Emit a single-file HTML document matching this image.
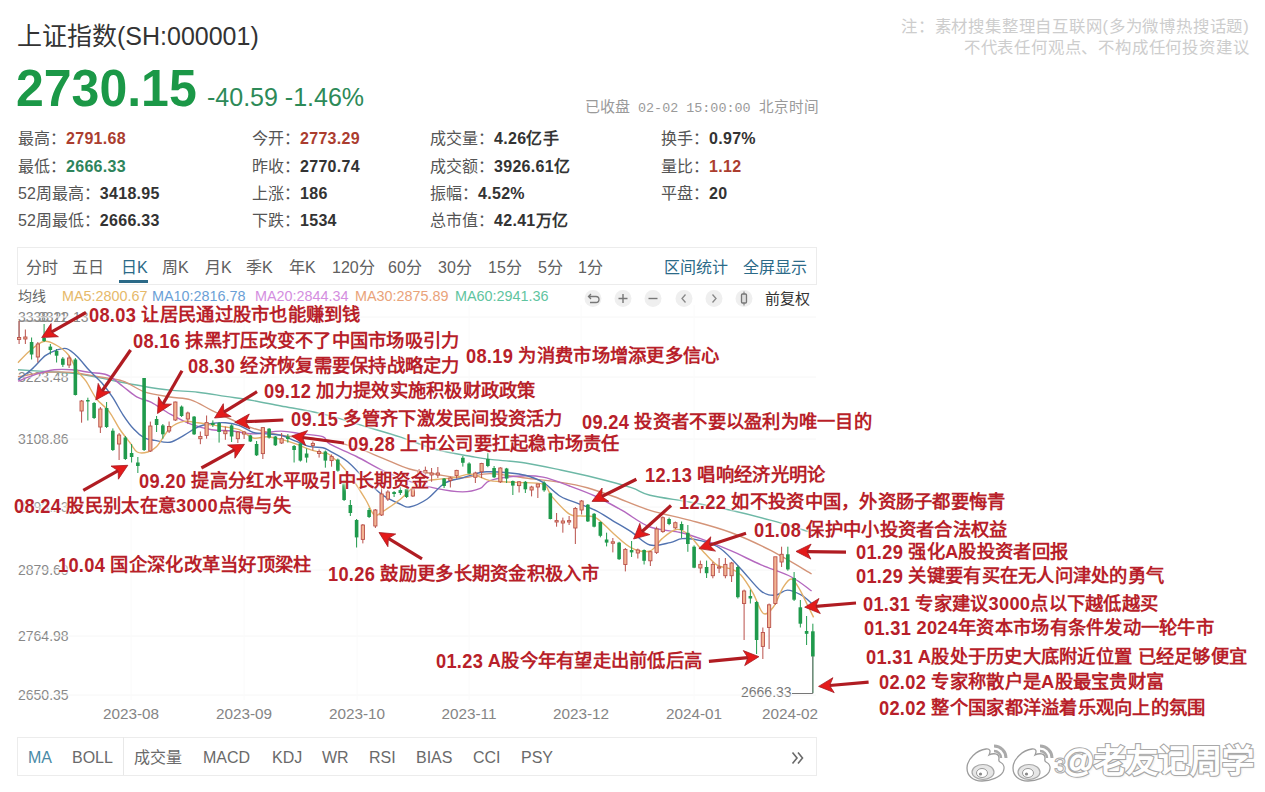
<!DOCTYPE html>
<html lang="zh-CN"><head><meta charset="utf-8"><style>
html,body{margin:0;padding:0;background:#fff;}
#root{position:relative;width:1265px;height:792px;overflow:hidden;background:#fff;font-family:"Liberation Sans",sans-serif;}
.t{position:absolute;white-space:nowrap;}
.box{position:absolute;border:1px solid #e6e6e6;box-sizing:border-box;}
b{font-weight:bold;}
</style></head><body><div id="root">
<div class="t" style="left:17px;top:23.5px;font-size:25px;line-height:25px;color:#333;font-weight:normal;font-family:'Liberation Sans', sans-serif;">上证指数(SH:000001)</div>
<div class="t" style="left:16px;top:62.8px;font-size:50px;line-height:50px;color:#1b9847;font-weight:bold;font-family:'Liberation Sans', sans-serif;transform:scaleY(1.04);transform-origin:0 50%;">2730.15</div>
<div class="t" style="left:207px;top:84.5px;font-size:25px;line-height:25px;color:#2d8a58;font-weight:normal;font-family:'Liberation Sans', sans-serif;">-40.59 -1.46%</div>
<div class="t" style="left:585px;top:97px;line-height:20px;color:#9a9a9a;font-size:15px">已收盘<span style="font-family:'Liberation Mono',monospace;font-size:13.4px"> 02-02 15:00:00 </span><span style="font-size:14.6px">北京时间</span></div>
<div class="t" style="left:18px;top:129px;font-size:16px;line-height:20px;color:#555">最高：<b style="color:#ab3d2f;letter-spacing:0.3px">2791.68</b></div>
<div class="t" style="left:18px;top:156.5px;font-size:16px;line-height:20px;color:#555">最低：<b style="color:#2e845b;letter-spacing:0.3px">2666.33</b></div>
<div class="t" style="left:18px;top:184px;font-size:16px;line-height:20px;color:#555">52周最高：<b style="color:#333;letter-spacing:0.3px">3418.95</b></div>
<div class="t" style="left:18px;top:211px;font-size:16px;line-height:20px;color:#555">52周最低：<b style="color:#333;letter-spacing:0.3px">2666.33</b></div>
<div class="t" style="left:252px;top:129px;font-size:16px;line-height:20px;color:#555">今开：<b style="color:#ab3d2f;letter-spacing:0.3px">2773.29</b></div>
<div class="t" style="left:252px;top:156.5px;font-size:16px;line-height:20px;color:#555">昨收：<b style="color:#333;letter-spacing:0.3px">2770.74</b></div>
<div class="t" style="left:252px;top:184px;font-size:16px;line-height:20px;color:#555">上涨：<b style="color:#333;letter-spacing:0.3px">186</b></div>
<div class="t" style="left:252px;top:211px;font-size:16px;line-height:20px;color:#555">下跌：<b style="color:#333;letter-spacing:0.3px">1534</b></div>
<div class="t" style="left:430px;top:129px;font-size:16px;line-height:20px;color:#555">成交量：<b style="color:#333;letter-spacing:0.3px">4.26亿手</b></div>
<div class="t" style="left:430px;top:156.5px;font-size:16px;line-height:20px;color:#555">成交额：<b style="color:#333;letter-spacing:0.3px">3926.61亿</b></div>
<div class="t" style="left:430px;top:184px;font-size:16px;line-height:20px;color:#555">振幅：<b style="color:#333;letter-spacing:0.3px">4.52%</b></div>
<div class="t" style="left:430px;top:211px;font-size:16px;line-height:20px;color:#555">总市值：<b style="color:#333;letter-spacing:0.3px">42.41万亿</b></div>
<div class="t" style="left:661px;top:129px;font-size:16px;line-height:20px;color:#555">换手：<b style="color:#333;letter-spacing:0.3px">0.97%</b></div>
<div class="t" style="left:661px;top:156.5px;font-size:16px;line-height:20px;color:#555">量比：<b style="color:#ab3d2f;letter-spacing:0.3px">1.12</b></div>
<div class="t" style="left:661px;top:184px;font-size:16px;line-height:20px;color:#555">平盘：<b style="color:#333;letter-spacing:0.3px">20</b></div>
<div class="t" style="right:15.5px;text-align:right;top:18.3px;font-size:16.4px;line-height:16.4px;color:#cdcdcd;font-weight:normal;font-family:'Liberation Sans', sans-serif;letter-spacing:0.8px;">注：素材搜集整理自互联网(多为微博热搜话题)</div>
<div class="t" style="right:15.5px;text-align:right;top:39.1px;font-size:16.4px;line-height:16.4px;color:#cdcdcd;font-weight:normal;font-family:'Liberation Sans', sans-serif;letter-spacing:0.8px;">不代表任何观点、不构成任何投资建议</div>
<div class="box" style="left:17px;top:247px;width:800px;height:37.5px;border-color:#ececec"></div>
<div class="t" style="left:26px;top:260.0px;font-size:16px;line-height:16px;color:#606060;font-weight:normal;font-family:'Liberation Sans', sans-serif;">分时</div>
<div class="t" style="left:72px;top:260.0px;font-size:16px;line-height:16px;color:#606060;font-weight:normal;font-family:'Liberation Sans', sans-serif;">五日</div>
<div class="t" style="left:121px;top:260.0px;font-size:16px;line-height:16px;color:#2b6a88;font-weight:normal;font-family:'Liberation Sans', sans-serif;">日K</div>
<div class="t" style="left:162px;top:260.0px;font-size:16px;line-height:16px;color:#606060;font-weight:normal;font-family:'Liberation Sans', sans-serif;">周K</div>
<div class="t" style="left:205px;top:260.0px;font-size:16px;line-height:16px;color:#606060;font-weight:normal;font-family:'Liberation Sans', sans-serif;">月K</div>
<div class="t" style="left:246px;top:260.0px;font-size:16px;line-height:16px;color:#606060;font-weight:normal;font-family:'Liberation Sans', sans-serif;">季K</div>
<div class="t" style="left:289px;top:260.0px;font-size:16px;line-height:16px;color:#606060;font-weight:normal;font-family:'Liberation Sans', sans-serif;">年K</div>
<div class="t" style="left:332px;top:260.0px;font-size:16px;line-height:16px;color:#606060;font-weight:normal;font-family:'Liberation Sans', sans-serif;">120分</div>
<div class="t" style="left:388px;top:260.0px;font-size:16px;line-height:16px;color:#606060;font-weight:normal;font-family:'Liberation Sans', sans-serif;">60分</div>
<div class="t" style="left:438px;top:260.0px;font-size:16px;line-height:16px;color:#606060;font-weight:normal;font-family:'Liberation Sans', sans-serif;">30分</div>
<div class="t" style="left:488px;top:260.0px;font-size:16px;line-height:16px;color:#606060;font-weight:normal;font-family:'Liberation Sans', sans-serif;">15分</div>
<div class="t" style="left:538px;top:260.0px;font-size:16px;line-height:16px;color:#606060;font-weight:normal;font-family:'Liberation Sans', sans-serif;">5分</div>
<div class="t" style="left:578px;top:260.0px;font-size:16px;line-height:16px;color:#606060;font-weight:normal;font-family:'Liberation Sans', sans-serif;">1分</div>
<div style="position:absolute;left:119px;top:280px;width:29px;height:3px;background:#2b6a88"></div>
<div class="t" style="left:664px;top:260.0px;font-size:16px;line-height:16px;color:#2b6a88;font-weight:normal;font-family:'Liberation Sans', sans-serif;">区间统计</div>
<div class="t" style="left:743px;top:260.0px;font-size:16px;line-height:16px;color:#2b6a88;font-weight:normal;font-family:'Liberation Sans', sans-serif;">全屏显示</div>
<div class="t" style="left:18px;top:289.0px;font-size:14px;line-height:14px;color:#666;font-weight:normal;font-family:'Liberation Sans', sans-serif;">均线</div>
<div class="t" style="left:62px;top:288.8px;font-size:14.4px;line-height:14.4px;color:#e6b96a;font-weight:normal;font-family:'Liberation Sans', sans-serif;">MA5:2800.67</div>
<div class="t" style="left:152px;top:288.8px;font-size:14.4px;line-height:14.4px;color:#6b9fd6;font-weight:normal;font-family:'Liberation Sans', sans-serif;">MA10:2816.78</div>
<div class="t" style="left:255px;top:288.8px;font-size:14.4px;line-height:14.4px;color:#d48ee0;font-weight:normal;font-family:'Liberation Sans', sans-serif;">MA20:2844.34</div>
<div class="t" style="left:355px;top:288.8px;font-size:14.4px;line-height:14.4px;color:#e9a37a;font-weight:normal;font-family:'Liberation Sans', sans-serif;">MA30:2875.89</div>
<div class="t" style="left:455px;top:288.8px;font-size:14.4px;line-height:14.4px;color:#5fc4a0;font-weight:normal;font-family:'Liberation Sans', sans-serif;">MA60:2941.36</div>
<svg style="position:absolute;left:0;top:0" width="1265" height="320"><g transform="translate(593,298.5)"><circle r="8.5" fill="#efefef"/><path d="M-4 -2 L3 -2 A3 3 0 0 1 3 4 L-3 4 M-2 -4.5 L-4.5 -2 L-2 0.5" fill="none" stroke="#777" stroke-width="1.3"/></g><g transform="translate(623,298.5)"><circle r="8.5" fill="#efefef"/><path d="M-4.5 0 H4.5 M0 -4.5 V4.5" stroke="#777" stroke-width="1.4"/></g><g transform="translate(653,298.5)"><circle r="8.5" fill="#efefef"/><path d="M-4.5 0 H4.5" stroke="#777" stroke-width="1.4"/></g><g transform="translate(684,298.5)"><circle r="8.5" fill="#efefef"/><path d="M1.5 -4 L-2 0 L1.5 4" fill="none" stroke="#888" stroke-width="1.3"/></g><g transform="translate(714,298.5)"><circle r="8.5" fill="#efefef"/><path d="M-1.5 -4 L2 0 L-1.5 4" fill="none" stroke="#888" stroke-width="1.3"/></g><g transform="translate(744,298.5)"><circle r="8.5" fill="#efefef"/><path d="M0 -7 V7" stroke="#777" stroke-width="1"/><rect x="-2.5" y="-4.5" width="5" height="9" rx="1" fill="#ddd" stroke="#777" stroke-width="1.3"/></g></svg>
<div class="t" style="left:765px;top:291.0px;font-size:15px;line-height:15px;color:#333;font-weight:normal;font-family:'Liberation Sans', sans-serif;">前复权</div>
<div class="t" style="left:18px;top:310.0px;font-size:14px;line-height:14px;color:#888;font-weight:normal;font-family:'Liberation Sans', sans-serif;">3338.11</div>
<div class="t" style="left:18px;top:370.0px;font-size:14px;line-height:14px;color:#888;font-weight:normal;font-family:'Liberation Sans', sans-serif;">3223.48</div>
<div class="t" style="left:18px;top:432.0px;font-size:14px;line-height:14px;color:#888;font-weight:normal;font-family:'Liberation Sans', sans-serif;">3108.86</div>
<div class="t" style="left:18px;top:500.0px;font-size:14px;line-height:14px;color:#888;font-weight:normal;font-family:'Liberation Sans', sans-serif;">2993.23</div>
<div class="t" style="left:18px;top:563.0px;font-size:14px;line-height:14px;color:#888;font-weight:normal;font-family:'Liberation Sans', sans-serif;">2879.60</div>
<div class="t" style="left:18px;top:629.0px;font-size:14px;line-height:14px;color:#888;font-weight:normal;font-family:'Liberation Sans', sans-serif;">2764.98</div>
<div class="t" style="left:18px;top:688.0px;font-size:14px;line-height:14px;color:#888;font-weight:normal;font-family:'Liberation Sans', sans-serif;">2650.35</div>
<div class="t" style="left:38px;top:310.0px;font-size:14px;line-height:14px;color:#888;font-weight:normal;font-family:'Liberation Sans', sans-serif;">3322.13</div>
<div class="t" style="left:131px;transform:translateX(-50%);top:706.4px;font-size:15.3px;line-height:15.3px;color:#858585;font-weight:normal;font-family:'Liberation Sans', sans-serif;">2023-08</div>
<div class="t" style="left:244px;transform:translateX(-50%);top:706.4px;font-size:15.3px;line-height:15.3px;color:#858585;font-weight:normal;font-family:'Liberation Sans', sans-serif;">2023-09</div>
<div class="t" style="left:357px;transform:translateX(-50%);top:706.4px;font-size:15.3px;line-height:15.3px;color:#858585;font-weight:normal;font-family:'Liberation Sans', sans-serif;">2023-10</div>
<div class="t" style="left:469px;transform:translateX(-50%);top:706.4px;font-size:15.3px;line-height:15.3px;color:#858585;font-weight:normal;font-family:'Liberation Sans', sans-serif;">2023-11</div>
<div class="t" style="left:581px;transform:translateX(-50%);top:706.4px;font-size:15.3px;line-height:15.3px;color:#858585;font-weight:normal;font-family:'Liberation Sans', sans-serif;">2023-12</div>
<div class="t" style="left:694px;transform:translateX(-50%);top:706.4px;font-size:15.3px;line-height:15.3px;color:#858585;font-weight:normal;font-family:'Liberation Sans', sans-serif;">2024-01</div>
<div class="t" style="left:790px;transform:translateX(-50%);top:706.4px;font-size:15.3px;line-height:15.3px;color:#858585;font-weight:normal;font-family:'Liberation Sans', sans-serif;">2024-02</div>
<div class="t" style="left:741px;top:685.0px;font-size:14px;line-height:14px;color:#777;font-weight:normal;font-family:'Liberation Sans', sans-serif;">2666.33</div>
<div class="box" style="left:17px;top:737px;width:800px;height:38.5px;border-color:#ececec"></div>
<div style="position:absolute;left:123px;top:737px;width:1px;height:38px;background:#e8e8e8"></div>
<div class="t" style="left:28px;top:750.0px;font-size:16px;line-height:16px;color:#4a8aa6;font-weight:normal;font-family:'Liberation Sans', sans-serif;">MA</div>
<div class="t" style="left:72px;top:750.0px;font-size:16px;line-height:16px;color:#6a6a6a;font-weight:normal;font-family:'Liberation Sans', sans-serif;">BOLL</div>
<div class="t" style="left:134px;top:750.0px;font-size:16px;line-height:16px;color:#6a6a6a;font-weight:normal;font-family:'Liberation Sans', sans-serif;">成交量</div>
<div class="t" style="left:203px;top:750.0px;font-size:16px;line-height:16px;color:#6a6a6a;font-weight:normal;font-family:'Liberation Sans', sans-serif;">MACD</div>
<div class="t" style="left:272px;top:750.0px;font-size:16px;line-height:16px;color:#6a6a6a;font-weight:normal;font-family:'Liberation Sans', sans-serif;">KDJ</div>
<div class="t" style="left:322px;top:750.0px;font-size:16px;line-height:16px;color:#6a6a6a;font-weight:normal;font-family:'Liberation Sans', sans-serif;">WR</div>
<div class="t" style="left:369px;top:750.0px;font-size:16px;line-height:16px;color:#6a6a6a;font-weight:normal;font-family:'Liberation Sans', sans-serif;">RSI</div>
<div class="t" style="left:416px;top:750.0px;font-size:16px;line-height:16px;color:#6a6a6a;font-weight:normal;font-family:'Liberation Sans', sans-serif;">BIAS</div>
<div class="t" style="left:473px;top:750.0px;font-size:16px;line-height:16px;color:#6a6a6a;font-weight:normal;font-family:'Liberation Sans', sans-serif;">CCI</div>
<div class="t" style="left:521px;top:750.0px;font-size:16px;line-height:16px;color:#6a6a6a;font-weight:normal;font-family:'Liberation Sans', sans-serif;">PSY</div>
<svg style="position:absolute;left:790px;top:750px" width="16" height="16" viewBox="0 0 16 16"><path d="M2.5 2.5 L7 8 L2.5 13.5 M8 2.5 L12.5 8 L8 13.5" fill="none" stroke="#6a6a6a" stroke-width="1.6"/></svg>
<svg style="position:absolute;left:0;top:0" width="1265" height="792" viewBox="0 0 1265 792"><line x1="17" y1="317" x2="816" y2="317" stroke="#f6f6f6" stroke-width="1"/><line x1="17" y1="377" x2="816" y2="377" stroke="#f6f6f6" stroke-width="1"/><line x1="17" y1="439" x2="816" y2="439" stroke="#f6f6f6" stroke-width="1"/><line x1="17" y1="507" x2="816" y2="507" stroke="#f6f6f6" stroke-width="1"/><line x1="17" y1="570" x2="816" y2="570" stroke="#f6f6f6" stroke-width="1"/><line x1="17" y1="636" x2="816" y2="636" stroke="#f6f6f6" stroke-width="1"/><line x1="17" y1="695" x2="816" y2="695" stroke="#f6f6f6" stroke-width="1"/><line x1="131" y1="305" x2="131" y2="700" stroke="#fafafa" stroke-width="1"/><line x1="244" y1="305" x2="244" y2="700" stroke="#fafafa" stroke-width="1"/><line x1="357" y1="305" x2="357" y2="700" stroke="#fafafa" stroke-width="1"/><line x1="469" y1="305" x2="469" y2="700" stroke="#fafafa" stroke-width="1"/><line x1="581" y1="305" x2="581" y2="700" stroke="#fafafa" stroke-width="1"/><line x1="694" y1="305" x2="694" y2="700" stroke="#fafafa" stroke-width="1"/><path d="M18.0,369.8 C22.6,370.1 34.8,370.8 45.3,371.5 C55.8,372.2 68.9,372.6 80.7,374.2 C92.5,375.8 105.4,379.1 116.0,381.2 C126.6,383.2 135.3,385.0 144.3,386.5 C153.3,388.0 161.1,389.2 170.0,390.1 C178.9,391.1 188.5,391.1 197.8,392.2 C207.1,393.2 216.3,395.0 225.6,396.4 C234.8,397.8 244.1,399.0 253.3,400.6 C262.5,402.2 271.7,404.3 281.0,406.0 C290.3,407.7 300.7,409.4 308.9,411.0 C317.1,412.6 320.6,413.3 330.0,415.9 C339.4,418.5 353.5,423.0 365.3,426.5 C377.1,430.0 388.9,433.3 400.7,437.1 C412.5,440.9 424.2,446.3 436.0,449.5 C447.8,452.7 462.4,454.9 471.4,456.5 C480.4,458.1 481.0,458.3 490.0,459.4 C499.0,460.5 513.5,461.2 525.3,463.0 C537.1,464.8 548.9,467.5 560.7,470.0 C572.5,472.5 584.2,475.1 596.0,478.0 C607.8,480.9 622.4,484.8 631.4,487.7 C640.4,490.6 640.2,492.8 650.0,495.2 C659.8,497.6 676.9,499.7 690.4,502.2 C703.9,504.7 717.3,507.3 730.8,510.3 C744.3,513.3 757.7,516.7 771.2,520.4 C784.7,524.1 804.9,530.5 811.6,532.5" fill="none" stroke="#6db8a6" stroke-width="1.4"/><path d="M18.0,376.8 C22.6,376.1 36.3,373.1 45.3,372.4 C54.3,371.7 62.9,371.7 71.8,372.4 C80.7,373.1 89.9,375.3 98.4,376.8 C106.9,378.3 115.3,378.7 123.0,381.2 C130.7,383.7 136.5,389.2 144.3,391.8 C152.1,394.4 162.2,395.6 170.0,397.0 C177.8,398.4 183.9,397.7 190.8,399.9 C197.8,402.1 204.8,406.9 211.7,410.3 C218.6,413.7 225.6,417.0 232.5,420.0 C239.4,423.0 245.2,425.8 253.3,428.3 C261.4,430.9 271.7,433.7 281.0,435.3 C290.3,436.9 300.7,437.1 308.9,438.0 C317.1,438.9 322.1,439.0 330.0,440.6 C337.9,442.2 347.7,444.8 356.5,447.7 C365.3,450.6 374.2,454.8 383.0,458.3 C391.8,461.9 400.7,466.4 409.5,469.0 C418.3,471.6 427.2,472.7 436.0,474.2 C444.8,475.7 453.5,477.9 462.5,477.8 C471.5,477.7 479.5,473.6 490.0,473.6 C500.5,473.6 513.5,476.5 525.3,478.0 C537.1,479.5 550.4,480.8 560.7,482.4 C571.0,484.0 578.4,485.3 587.2,487.7 C596.0,490.1 603.2,492.7 613.7,496.5 C624.2,500.3 637.2,506.3 650.0,510.3 C662.8,514.3 676.9,516.7 690.4,520.4 C703.9,524.1 717.3,527.5 730.8,532.5 C744.3,537.5 757.7,543.8 771.2,550.7 C784.7,557.6 804.9,570.1 811.6,574.0" fill="none" stroke="#d49478" stroke-width="1.4"/><path d="M18.0,381.2 C21.1,380.0 30.5,376.1 36.5,374.2 C42.5,372.3 48.3,370.5 54.2,369.8 C60.1,369.1 65.9,369.4 71.8,369.8 C77.7,370.2 83.6,371.5 89.5,372.4 C95.4,373.3 101.6,372.6 107.2,375.0 C112.8,377.4 118.0,382.8 123.0,386.5 C128.0,390.2 132.5,394.6 137.2,397.2 C141.9,399.8 145.9,399.6 151.4,402.4 C156.9,405.2 163.4,410.4 170.0,414.0 C176.6,417.6 183.9,421.6 190.8,424.2 C197.8,426.8 204.8,428.6 211.7,429.7 C218.6,430.8 225.6,430.3 232.5,431.0 C239.4,431.7 245.2,433.9 253.3,433.9 C261.4,433.9 272.9,431.1 281.0,431.1 C289.1,431.1 295.0,433.0 302.0,433.9 C309.0,434.8 318.1,435.0 322.8,436.7 C327.5,438.4 324.4,440.9 330.0,444.2 C335.6,447.5 347.7,452.1 356.5,456.5 C365.3,460.9 374.2,466.6 383.0,470.7 C391.8,474.8 400.7,478.4 409.5,481.3 C418.3,484.2 427.2,486.6 436.0,488.4 C444.8,490.2 455.1,491.9 462.5,491.9 C469.9,491.9 475.6,490.3 480.2,488.4 C484.8,486.5 483.9,482.6 490.0,480.6 C496.1,478.6 507.7,476.8 516.5,476.2 C525.3,475.6 534.2,475.5 543.0,477.1 C551.8,478.7 560.7,482.8 569.5,486.0 C578.3,489.2 587.2,492.4 596.0,496.5 C604.8,500.6 613.5,505.6 622.5,510.7 C631.5,515.8 640.4,523.4 650.0,527.0 C659.6,530.6 671.9,530.6 680.3,532.5 C688.7,534.4 692.1,535.6 700.5,538.6 C708.9,541.6 720.7,546.3 730.8,550.7 C740.9,555.1 751.0,560.4 761.1,564.8 C771.2,569.2 783.0,572.6 791.4,577.0 C799.8,581.4 808.2,588.7 811.6,591.0" fill="none" stroke="#b468bf" stroke-width="1.4"/><path d="M18.0,379.5 C20.2,377.9 26.6,373.8 31.2,369.8 C35.8,365.8 41.2,358.9 45.3,355.6 C49.4,352.4 52.5,351.5 56.0,350.3 C59.5,349.1 63.0,347.6 66.5,348.6 C70.0,349.6 73.4,352.8 77.2,356.5 C81.0,360.2 85.4,366.2 89.5,370.6 C93.6,375.0 98.1,378.6 101.9,383.0 C105.7,387.4 109.0,391.9 112.5,397.2 C116.0,402.5 119.5,409.5 123.0,414.8 C126.5,420.1 130.1,425.2 133.7,429.0 C137.2,432.8 140.8,435.9 144.3,437.8 C147.8,439.7 150.6,439.7 154.9,440.4 C159.2,441.1 165.2,443.0 170.0,442.2 C174.8,441.4 179.3,437.8 183.9,435.3 C188.5,432.8 193.2,429.0 197.8,427.0 C202.4,425.0 207.1,424.2 211.7,423.5 C216.3,422.8 221.0,422.4 225.6,422.8 C230.2,423.2 234.8,424.0 239.4,425.6 C244.0,427.2 248.7,431.1 253.3,432.5 C257.9,433.9 262.6,433.4 267.2,433.9 C271.8,434.4 276.4,434.1 281.0,435.3 C285.6,436.5 290.4,439.0 295.0,440.8 C299.6,442.6 304.3,445.2 308.9,446.4 C313.5,447.6 319.3,447.0 322.8,447.8 C326.3,448.6 325.9,448.9 330.0,451.2 C334.1,453.5 341.8,457.1 347.7,461.8 C353.6,466.5 359.4,473.9 365.3,479.5 C371.2,485.1 377.1,491.3 383.0,495.4 C388.9,499.5 396.3,502.4 400.7,504.3 C405.1,506.2 405.1,507.9 409.5,507.0 C413.9,506.1 421.3,503.0 427.2,499.0 C433.1,495.0 439.0,486.5 444.9,483.0 C450.8,479.5 456.6,479.6 462.5,477.8 C468.4,476.1 475.6,473.5 480.2,472.5 C484.8,471.5 485.4,471.8 490.0,471.8 C494.6,471.8 501.8,472.1 507.7,472.7 C513.6,473.3 519.4,473.7 525.3,475.3 C531.2,476.9 537.1,478.9 543.0,482.4 C548.9,485.9 554.8,493.0 560.7,496.5 C566.6,500.0 572.5,501.2 578.4,503.6 C584.3,506.0 590.1,507.8 596.0,510.7 C601.9,513.6 607.8,517.8 613.7,521.3 C619.6,524.8 625.4,527.9 631.4,531.9 C637.4,535.9 643.5,543.2 650.0,545.0 C656.5,546.8 664.8,543.7 670.2,542.6 C675.6,541.5 677.2,538.9 682.3,538.6 C687.3,538.3 694.1,538.9 700.5,540.6 C706.9,542.3 714.0,544.0 720.7,548.7 C727.4,553.4 734.2,561.8 740.9,568.9 C747.6,576.0 755.4,586.7 761.1,591.1 C766.8,595.5 770.9,595.4 775.3,595.2 C779.7,595.0 783.0,590.1 787.4,590.1 C791.8,590.1 797.5,593.0 801.5,595.2 C805.5,597.4 809.9,601.9 811.6,603.2" fill="none" stroke="#5273b0" stroke-width="1.4"/><path d="M18.0,362.7 C19.9,360.8 25.1,354.7 29.4,351.2 C33.7,347.7 39.2,342.5 43.6,341.5 C48.0,340.5 51.9,342.8 56.0,345.0 C60.1,347.2 64.8,350.4 68.3,354.7 C71.8,359.0 74.2,366.2 77.2,370.6 C80.2,375.0 82.8,376.5 86.0,381.2 C89.2,385.9 92.8,394.0 96.6,399.0 C100.4,404.0 105.2,406.3 109.0,411.3 C112.8,416.3 116.1,423.7 119.6,429.0 C123.1,434.3 127.3,439.2 130.2,443.0 C133.1,446.8 134.3,450.5 137.2,452.0 C140.1,453.5 144.6,452.9 147.8,452.0 C151.1,451.1 153.0,450.6 156.7,446.6 C160.4,442.7 165.5,432.5 170.0,428.3 C174.5,424.1 179.3,422.3 183.9,421.4 C188.5,420.5 193.2,422.2 197.8,422.8 C202.4,423.4 207.1,424.2 211.7,424.9 C216.3,425.6 221.0,426.2 225.6,427.0 C230.2,427.8 234.8,427.9 239.4,429.7 C244.0,431.5 248.7,436.8 253.3,438.0 C257.9,439.2 262.6,436.5 267.2,436.7 C271.8,436.9 276.4,438.2 281.0,439.4 C285.6,440.5 290.4,442.0 295.0,443.6 C299.6,445.2 304.3,447.6 308.9,449.2 C313.5,450.8 319.3,452.3 322.8,453.3 C326.3,454.3 325.9,451.8 330.0,455.0 C334.1,458.2 341.8,465.2 347.7,472.5 C353.6,479.8 360.9,491.9 365.3,499.0 C369.7,506.1 371.2,512.9 374.2,514.9 C377.1,516.9 378.6,514.0 383.0,511.3 C387.4,508.7 394.8,503.7 400.7,499.0 C406.6,494.3 412.5,486.2 418.4,483.0 C424.3,479.8 430.1,480.4 436.0,479.5 C441.9,478.6 447.8,478.7 453.7,477.8 C459.6,476.9 465.3,473.7 471.4,474.2 C477.4,474.7 482.5,479.2 490.0,480.6 C497.5,482.0 507.7,481.8 516.5,482.4 C525.3,483.0 537.1,481.8 543.0,484.2 C548.9,486.6 547.4,491.5 551.8,496.5 C556.2,501.5 564.5,511.0 569.5,514.2 C574.5,517.5 577.5,515.4 581.9,516.0 C586.3,516.6 590.7,514.8 596.0,517.8 C601.3,520.8 607.8,528.7 613.7,533.7 C619.6,538.7 625.4,544.9 631.4,547.8 C637.4,550.7 644.9,552.5 650.0,551.0 C655.1,549.5 657.7,542.2 662.1,538.6 C666.5,535.0 671.9,530.2 676.3,529.5 C680.7,528.8 684.0,531.0 688.4,534.5 C692.8,538.0 697.8,545.7 702.5,550.7 C707.2,555.8 712.0,561.8 716.7,564.8 C721.4,567.8 726.8,567.2 730.8,568.9 C734.8,570.6 737.2,571.0 740.9,575.0 C744.6,579.0 749.3,586.7 753.0,593.1 C756.7,599.5 759.7,610.9 763.1,613.3 C766.5,615.7 769.8,611.7 773.2,607.3 C776.6,602.9 780.3,591.8 783.3,587.1 C786.3,582.4 788.7,578.7 791.4,579.0 C794.1,579.3 796.8,584.7 799.5,589.1 C802.2,593.5 805.2,600.6 807.6,605.3 C810.0,610.0 812.6,615.4 813.6,617.4" fill="none" stroke="#e3b06a" stroke-width="1.4"/><polyline points="50,321 19,321 19,338" fill="none" stroke="#888" stroke-width="1"/><line x1="19.10" y1="321.0" x2="19.10" y2="337.5" stroke="#b9504a" stroke-width="1"/><line x1="19.10" y1="339.5" x2="19.10" y2="344.0" stroke="#b9504a" stroke-width="1"/><rect x="17.50" y="337.5" width="3.2" height="2.0" fill="#f3b392" stroke="#b9504a" stroke-width="0.9"/><line x1="25.35" y1="329.5" x2="25.35" y2="337.0" stroke="#b9504a" stroke-width="1"/><line x1="25.35" y1="339.0" x2="25.35" y2="344.0" stroke="#b9504a" stroke-width="1"/><rect x="23.75" y="337.0" width="3.2" height="2.0" fill="#f3b392" stroke="#b9504a" stroke-width="0.9"/><line x1="31.60" y1="337.5" x2="31.60" y2="359.5" stroke="#1f9a4c" stroke-width="1"/><rect x="29.80" y="342.0" width="3.6" height="12.5" fill="#1f9a4c"/><line x1="37.85" y1="342.0" x2="37.85" y2="344.0" stroke="#b9504a" stroke-width="1"/><line x1="37.85" y1="357.0" x2="37.85" y2="362.5" stroke="#b9504a" stroke-width="1"/><rect x="36.25" y="344.0" width="3.2" height="13.0" fill="#f3b392" stroke="#b9504a" stroke-width="0.9"/><line x1="44.10" y1="324.0" x2="44.10" y2="342.0" stroke="#1f9a4c" stroke-width="1"/><rect x="42.30" y="338.0" width="3.6" height="3.0" fill="#1f9a4c"/><line x1="50.35" y1="344.0" x2="50.35" y2="354.5" stroke="#1f9a4c" stroke-width="1"/><rect x="48.55" y="346.6" width="3.6" height="3.4" fill="#1f9a4c"/><line x1="56.60" y1="349.0" x2="56.60" y2="362.5" stroke="#1f9a4c" stroke-width="1"/><rect x="54.80" y="351.0" width="3.6" height="4.7" fill="#1f9a4c"/><line x1="62.85" y1="357.0" x2="62.85" y2="367.0" stroke="#1f9a4c" stroke-width="1"/><rect x="61.05" y="358.6" width="3.6" height="6.2" fill="#1f9a4c"/><line x1="69.10" y1="355.7" x2="69.10" y2="358.0" stroke="#b9504a" stroke-width="1"/><line x1="69.10" y1="365.0" x2="69.10" y2="368.0" stroke="#b9504a" stroke-width="1"/><rect x="67.50" y="358.0" width="3.2" height="7.0" fill="#f3b392" stroke="#b9504a" stroke-width="0.9"/><line x1="75.35" y1="358.0" x2="75.35" y2="395.5" stroke="#1f9a4c" stroke-width="1"/><rect x="73.55" y="359.5" width="3.6" height="35.5" fill="#1f9a4c"/><line x1="81.60" y1="400.0" x2="81.60" y2="401.0" stroke="#b9504a" stroke-width="1"/><line x1="81.60" y1="411.0" x2="81.60" y2="422.7" stroke="#b9504a" stroke-width="1"/><rect x="80.00" y="401.0" width="3.2" height="10.0" fill="#f3b392" stroke="#b9504a" stroke-width="0.9"/><line x1="87.85" y1="397.7" x2="87.85" y2="420.5" stroke="#1f9a4c" stroke-width="1"/><rect x="86.05" y="400.0" width="3.6" height="1.5" fill="#1f9a4c"/><line x1="94.10" y1="402.0" x2="94.10" y2="419.0" stroke="#1f9a4c" stroke-width="1"/><rect x="92.30" y="403.0" width="3.6" height="15.0" fill="#1f9a4c"/><line x1="100.35" y1="407.0" x2="100.35" y2="409.0" stroke="#b9504a" stroke-width="1"/><line x1="100.35" y1="427.0" x2="100.35" y2="433.0" stroke="#b9504a" stroke-width="1"/><rect x="98.75" y="409.0" width="3.2" height="18.0" fill="#f3b392" stroke="#b9504a" stroke-width="0.9"/><line x1="106.60" y1="402.0" x2="106.60" y2="428.0" stroke="#1f9a4c" stroke-width="1"/><rect x="104.80" y="408.0" width="3.6" height="19.0" fill="#1f9a4c"/><line x1="112.85" y1="428.4" x2="112.85" y2="451.0" stroke="#1f9a4c" stroke-width="1"/><rect x="111.05" y="430.7" width="3.6" height="19.3" fill="#1f9a4c"/><line x1="119.10" y1="433.0" x2="119.10" y2="435.0" stroke="#b9504a" stroke-width="1"/><line x1="119.10" y1="444.0" x2="119.10" y2="460.0" stroke="#b9504a" stroke-width="1"/><rect x="117.50" y="435.0" width="3.2" height="9.0" fill="#f3b392" stroke="#b9504a" stroke-width="0.9"/><line x1="125.35" y1="436.0" x2="125.35" y2="460.0" stroke="#1f9a4c" stroke-width="1"/><rect x="123.55" y="437.5" width="3.6" height="21.5" fill="#1f9a4c"/><line x1="131.60" y1="444.0" x2="131.60" y2="462.5" stroke="#1f9a4c" stroke-width="1"/><rect x="129.80" y="453.0" width="3.6" height="4.0" fill="#1f9a4c"/><line x1="137.85" y1="457.0" x2="137.85" y2="473.0" stroke="#1f9a4c" stroke-width="1"/><rect x="136.05" y="462.5" width="3.6" height="3.5" fill="#1f9a4c"/><line x1="144.10" y1="378.0" x2="144.10" y2="451.0" stroke="#1f9a4c" stroke-width="1"/><rect x="142.30" y="378.0" width="3.6" height="72.0" fill="#1f9a4c"/><line x1="150.35" y1="421.6" x2="150.35" y2="426.0" stroke="#b9504a" stroke-width="1"/><line x1="150.35" y1="451.0" x2="150.35" y2="452.0" stroke="#b9504a" stroke-width="1"/><rect x="148.75" y="426.0" width="3.2" height="25.0" fill="#f3b392" stroke="#b9504a" stroke-width="0.9"/><line x1="156.60" y1="416.0" x2="156.60" y2="432.0" stroke="#1f9a4c" stroke-width="1"/><rect x="154.80" y="419.0" width="3.6" height="6.0" fill="#1f9a4c"/><line x1="162.85" y1="424.0" x2="162.85" y2="438.7" stroke="#1f9a4c" stroke-width="1"/><rect x="161.05" y="425.4" width="3.6" height="8.9" fill="#1f9a4c"/><line x1="169.10" y1="421.5" x2="169.10" y2="426.5" stroke="#b9504a" stroke-width="1"/><line x1="169.10" y1="431.0" x2="169.10" y2="433.0" stroke="#b9504a" stroke-width="1"/><rect x="167.50" y="426.5" width="3.2" height="4.5" fill="#f3b392" stroke="#b9504a" stroke-width="0.9"/><line x1="175.35" y1="401.6" x2="175.35" y2="402.0" stroke="#b9504a" stroke-width="1"/><line x1="175.35" y1="420.0" x2="175.35" y2="421.0" stroke="#b9504a" stroke-width="1"/><rect x="173.75" y="402.0" width="3.2" height="18.0" fill="#f3b392" stroke="#b9504a" stroke-width="0.9"/><line x1="181.60" y1="405.5" x2="181.60" y2="417.0" stroke="#1f9a4c" stroke-width="1"/><rect x="179.80" y="406.6" width="3.6" height="9.4" fill="#1f9a4c"/><line x1="187.85" y1="411.6" x2="187.85" y2="413.0" stroke="#b9504a" stroke-width="1"/><line x1="187.85" y1="419.0" x2="187.85" y2="423.8" stroke="#b9504a" stroke-width="1"/><rect x="186.25" y="413.0" width="3.2" height="6.0" fill="#f3b392" stroke="#b9504a" stroke-width="0.9"/><line x1="194.10" y1="416.0" x2="194.10" y2="435.0" stroke="#1f9a4c" stroke-width="1"/><rect x="192.30" y="416.6" width="3.6" height="17.7" fill="#1f9a4c"/><line x1="200.35" y1="431.5" x2="200.35" y2="436.5" stroke="#b9504a" stroke-width="1"/><line x1="200.35" y1="438.7" x2="200.35" y2="444.2" stroke="#b9504a" stroke-width="1"/><rect x="198.75" y="436.5" width="3.2" height="2.2" fill="#f3b392" stroke="#b9504a" stroke-width="0.9"/><line x1="206.60" y1="415.5" x2="206.60" y2="422.6" stroke="#b9504a" stroke-width="1"/><line x1="206.60" y1="435.4" x2="206.60" y2="438.7" stroke="#b9504a" stroke-width="1"/><rect x="205.00" y="422.6" width="3.2" height="12.8" fill="#f3b392" stroke="#b9504a" stroke-width="0.9"/><line x1="212.85" y1="420.4" x2="212.85" y2="427.0" stroke="#1f9a4c" stroke-width="1"/><rect x="211.05" y="423.0" width="3.6" height="2.0" fill="#1f9a4c"/><line x1="219.10" y1="422.0" x2="219.10" y2="442.6" stroke="#1f9a4c" stroke-width="1"/><rect x="217.30" y="423.0" width="3.6" height="9.0" fill="#1f9a4c"/><line x1="225.35" y1="426.5" x2="225.35" y2="431.0" stroke="#b9504a" stroke-width="1"/><line x1="225.35" y1="433.7" x2="225.35" y2="439.8" stroke="#b9504a" stroke-width="1"/><rect x="223.75" y="431.0" width="3.2" height="2.7" fill="#f3b392" stroke="#b9504a" stroke-width="0.9"/><line x1="231.60" y1="424.3" x2="231.60" y2="442.0" stroke="#1f9a4c" stroke-width="1"/><rect x="229.80" y="425.4" width="3.6" height="11.1" fill="#1f9a4c"/><line x1="237.85" y1="431.0" x2="237.85" y2="432.0" stroke="#b9504a" stroke-width="1"/><line x1="237.85" y1="438.7" x2="237.85" y2="443.0" stroke="#b9504a" stroke-width="1"/><rect x="236.25" y="432.0" width="3.2" height="6.7" fill="#f3b392" stroke="#b9504a" stroke-width="0.9"/><line x1="244.10" y1="431.0" x2="244.10" y2="432.0" stroke="#b9504a" stroke-width="1"/><line x1="244.10" y1="434.0" x2="244.10" y2="439.0" stroke="#b9504a" stroke-width="1"/><rect x="242.50" y="432.0" width="3.2" height="2.0" fill="#f3b392" stroke="#b9504a" stroke-width="0.9"/><line x1="250.35" y1="434.8" x2="250.35" y2="442.0" stroke="#1f9a4c" stroke-width="1"/><rect x="248.55" y="435.4" width="3.6" height="6.1" fill="#1f9a4c"/><line x1="256.60" y1="441.0" x2="256.60" y2="456.0" stroke="#1f9a4c" stroke-width="1"/><rect x="254.80" y="444.0" width="3.6" height="11.3" fill="#1f9a4c"/><line x1="262.85" y1="427.0" x2="262.85" y2="427.6" stroke="#b9504a" stroke-width="1"/><line x1="262.85" y1="453.6" x2="262.85" y2="459.0" stroke="#b9504a" stroke-width="1"/><rect x="261.25" y="427.6" width="3.2" height="26.0" fill="#f3b392" stroke="#b9504a" stroke-width="0.9"/><line x1="269.10" y1="428.0" x2="269.10" y2="438.7" stroke="#1f9a4c" stroke-width="1"/><rect x="267.30" y="428.7" width="3.6" height="8.9" fill="#1f9a4c"/><line x1="275.35" y1="436.0" x2="275.35" y2="446.0" stroke="#1f9a4c" stroke-width="1"/><rect x="273.55" y="436.5" width="3.6" height="8.8" fill="#1f9a4c"/><line x1="281.60" y1="433.0" x2="281.60" y2="438.7" stroke="#b9504a" stroke-width="1"/><line x1="281.60" y1="443.0" x2="281.60" y2="444.0" stroke="#b9504a" stroke-width="1"/><rect x="280.00" y="438.7" width="3.2" height="4.3" fill="#f3b392" stroke="#b9504a" stroke-width="0.9"/><line x1="287.85" y1="434.0" x2="287.85" y2="442.6" stroke="#1f9a4c" stroke-width="1"/><rect x="286.05" y="436.5" width="3.6" height="2.5" fill="#1f9a4c"/><line x1="294.10" y1="445.0" x2="294.10" y2="462.5" stroke="#1f9a4c" stroke-width="1"/><rect x="292.30" y="446.0" width="3.6" height="4.0" fill="#1f9a4c"/><line x1="300.35" y1="442.4" x2="300.35" y2="461.6" stroke="#1f9a4c" stroke-width="1"/><rect x="298.55" y="443.4" width="3.6" height="17.2" fill="#1f9a4c"/><line x1="306.60" y1="448.5" x2="306.60" y2="462.6" stroke="#1f9a4c" stroke-width="1"/><rect x="304.80" y="453.5" width="3.6" height="4.1" fill="#1f9a4c"/><line x1="312.85" y1="441.4" x2="312.85" y2="443.4" stroke="#b9504a" stroke-width="1"/><line x1="312.85" y1="445.5" x2="312.85" y2="450.5" stroke="#b9504a" stroke-width="1"/><rect x="311.25" y="443.4" width="3.2" height="2.1" fill="#f3b392" stroke="#b9504a" stroke-width="0.9"/><line x1="319.10" y1="449.5" x2="319.10" y2="451.5" stroke="#b9504a" stroke-width="1"/><line x1="319.10" y1="453.5" x2="319.10" y2="457.6" stroke="#b9504a" stroke-width="1"/><rect x="317.50" y="451.5" width="3.2" height="2.0" fill="#f3b392" stroke="#b9504a" stroke-width="0.9"/><line x1="325.35" y1="450.5" x2="325.35" y2="467.7" stroke="#1f9a4c" stroke-width="1"/><rect x="323.55" y="451.5" width="3.6" height="9.1" fill="#1f9a4c"/><line x1="331.60" y1="454.5" x2="331.60" y2="456.6" stroke="#b9504a" stroke-width="1"/><line x1="331.60" y1="460.6" x2="331.60" y2="466.7" stroke="#b9504a" stroke-width="1"/><rect x="330.00" y="456.6" width="3.2" height="4.0" fill="#f3b392" stroke="#b9504a" stroke-width="0.9"/><line x1="337.85" y1="458.6" x2="337.85" y2="471.7" stroke="#1f9a4c" stroke-width="1"/><rect x="336.05" y="459.6" width="3.6" height="11.1" fill="#1f9a4c"/><line x1="344.10" y1="479.8" x2="344.10" y2="501.0" stroke="#1f9a4c" stroke-width="1"/><rect x="342.30" y="480.8" width="3.6" height="19.2" fill="#1f9a4c"/><line x1="350.35" y1="500.0" x2="350.35" y2="516.0" stroke="#1f9a4c" stroke-width="1"/><rect x="348.55" y="505.0" width="3.6" height="8.0" fill="#1f9a4c"/><line x1="356.60" y1="519.0" x2="356.60" y2="547.5" stroke="#1f9a4c" stroke-width="1"/><rect x="354.80" y="520.0" width="3.6" height="17.4" fill="#1f9a4c"/><line x1="362.85" y1="524.0" x2="362.85" y2="525.0" stroke="#b9504a" stroke-width="1"/><line x1="362.85" y1="539.4" x2="362.85" y2="543.4" stroke="#b9504a" stroke-width="1"/><rect x="361.25" y="525.0" width="3.2" height="14.4" fill="#f3b392" stroke="#b9504a" stroke-width="0.9"/><line x1="369.10" y1="508.0" x2="369.10" y2="518.0" stroke="#1f9a4c" stroke-width="1"/><rect x="367.30" y="510.0" width="3.6" height="7.0" fill="#1f9a4c"/><line x1="375.35" y1="509.0" x2="375.35" y2="510.0" stroke="#b9504a" stroke-width="1"/><line x1="375.35" y1="526.0" x2="375.35" y2="528.0" stroke="#b9504a" stroke-width="1"/><rect x="373.75" y="510.0" width="3.2" height="16.0" fill="#f3b392" stroke="#b9504a" stroke-width="0.9"/><line x1="381.60" y1="488.0" x2="381.60" y2="494.0" stroke="#b9504a" stroke-width="1"/><line x1="381.60" y1="515.0" x2="381.60" y2="516.0" stroke="#b9504a" stroke-width="1"/><rect x="380.00" y="494.0" width="3.2" height="21.0" fill="#f3b392" stroke="#b9504a" stroke-width="0.9"/><line x1="387.85" y1="490.0" x2="387.85" y2="492.0" stroke="#b9504a" stroke-width="1"/><line x1="387.85" y1="499.0" x2="387.85" y2="501.0" stroke="#b9504a" stroke-width="1"/><rect x="386.25" y="492.0" width="3.2" height="7.0" fill="#f3b392" stroke="#b9504a" stroke-width="0.9"/><line x1="394.10" y1="491.0" x2="394.10" y2="497.0" stroke="#1f9a4c" stroke-width="1"/><rect x="392.30" y="492.0" width="3.6" height="2.0" fill="#1f9a4c"/><line x1="400.35" y1="487.0" x2="400.35" y2="495.0" stroke="#1f9a4c" stroke-width="1"/><rect x="398.55" y="490.0" width="3.6" height="3.0" fill="#1f9a4c"/><line x1="406.60" y1="487.0" x2="406.60" y2="498.0" stroke="#1f9a4c" stroke-width="1"/><rect x="404.80" y="489.0" width="3.6" height="8.0" fill="#1f9a4c"/><line x1="412.85" y1="487.0" x2="412.85" y2="489.0" stroke="#b9504a" stroke-width="1"/><line x1="412.85" y1="496.0" x2="412.85" y2="497.0" stroke="#b9504a" stroke-width="1"/><rect x="411.25" y="489.0" width="3.2" height="7.0" fill="#f3b392" stroke="#b9504a" stroke-width="0.9"/><line x1="419.10" y1="469.0" x2="419.10" y2="471.7" stroke="#b9504a" stroke-width="1"/><line x1="419.10" y1="480.5" x2="419.10" y2="483.0" stroke="#b9504a" stroke-width="1"/><rect x="417.50" y="471.7" width="3.2" height="8.8" fill="#f3b392" stroke="#b9504a" stroke-width="0.9"/><line x1="425.35" y1="466.6" x2="425.35" y2="470.4" stroke="#b9504a" stroke-width="1"/><line x1="425.35" y1="473.0" x2="425.35" y2="478.0" stroke="#b9504a" stroke-width="1"/><rect x="423.75" y="470.4" width="3.2" height="2.6" fill="#f3b392" stroke="#b9504a" stroke-width="0.9"/><line x1="431.60" y1="468.0" x2="431.60" y2="473.0" stroke="#b9504a" stroke-width="1"/><line x1="431.60" y1="475.0" x2="431.60" y2="481.8" stroke="#b9504a" stroke-width="1"/><rect x="430.00" y="473.0" width="3.2" height="2.0" fill="#f3b392" stroke="#b9504a" stroke-width="0.9"/><line x1="437.85" y1="467.0" x2="437.85" y2="473.0" stroke="#b9504a" stroke-width="1"/><line x1="437.85" y1="475.0" x2="437.85" y2="478.0" stroke="#b9504a" stroke-width="1"/><rect x="436.25" y="473.0" width="3.2" height="2.0" fill="#f3b392" stroke="#b9504a" stroke-width="0.9"/><line x1="444.10" y1="478.0" x2="444.10" y2="488.0" stroke="#1f9a4c" stroke-width="1"/><rect x="442.30" y="478.6" width="3.6" height="7.4" fill="#1f9a4c"/><line x1="450.35" y1="476.7" x2="450.35" y2="478.0" stroke="#b9504a" stroke-width="1"/><line x1="450.35" y1="480.5" x2="450.35" y2="487.5" stroke="#b9504a" stroke-width="1"/><rect x="448.75" y="478.0" width="3.2" height="2.5" fill="#f3b392" stroke="#b9504a" stroke-width="0.9"/><line x1="456.60" y1="469.8" x2="456.60" y2="470.4" stroke="#b9504a" stroke-width="1"/><line x1="456.60" y1="475.5" x2="456.60" y2="478.6" stroke="#b9504a" stroke-width="1"/><rect x="455.00" y="470.4" width="3.2" height="5.1" fill="#f3b392" stroke="#b9504a" stroke-width="0.9"/><line x1="462.85" y1="456.0" x2="462.85" y2="466.6" stroke="#1f9a4c" stroke-width="1"/><rect x="461.05" y="457.8" width="3.6" height="5.0" fill="#1f9a4c"/><line x1="469.10" y1="462.3" x2="469.10" y2="474.2" stroke="#1f9a4c" stroke-width="1"/><rect x="467.30" y="463.5" width="3.6" height="10.1" fill="#1f9a4c"/><line x1="475.35" y1="471.7" x2="475.35" y2="473.0" stroke="#b9504a" stroke-width="1"/><line x1="475.35" y1="477.3" x2="475.35" y2="483.0" stroke="#b9504a" stroke-width="1"/><rect x="473.75" y="473.0" width="3.2" height="4.3" fill="#f3b392" stroke="#b9504a" stroke-width="0.9"/><line x1="481.60" y1="462.8" x2="481.60" y2="463.5" stroke="#b9504a" stroke-width="1"/><line x1="481.60" y1="471.7" x2="481.60" y2="478.0" stroke="#b9504a" stroke-width="1"/><rect x="480.00" y="463.5" width="3.2" height="8.2" fill="#f3b392" stroke="#b9504a" stroke-width="0.9"/><line x1="487.85" y1="452.7" x2="487.85" y2="467.2" stroke="#1f9a4c" stroke-width="1"/><rect x="486.05" y="459.0" width="3.6" height="7.0" fill="#1f9a4c"/><line x1="494.10" y1="466.0" x2="494.10" y2="478.0" stroke="#1f9a4c" stroke-width="1"/><rect x="492.30" y="468.0" width="3.6" height="9.3" fill="#1f9a4c"/><line x1="500.35" y1="467.2" x2="500.35" y2="468.0" stroke="#b9504a" stroke-width="1"/><line x1="500.35" y1="481.8" x2="500.35" y2="483.0" stroke="#b9504a" stroke-width="1"/><rect x="498.75" y="468.0" width="3.2" height="13.8" fill="#f3b392" stroke="#b9504a" stroke-width="0.9"/><line x1="506.60" y1="467.9" x2="506.60" y2="483.0" stroke="#1f9a4c" stroke-width="1"/><rect x="504.80" y="468.5" width="3.6" height="10.1" fill="#1f9a4c"/><line x1="512.85" y1="480.5" x2="512.85" y2="495.0" stroke="#1f9a4c" stroke-width="1"/><rect x="511.05" y="481.0" width="3.6" height="4.6" fill="#1f9a4c"/><line x1="519.10" y1="481.0" x2="519.10" y2="481.8" stroke="#b9504a" stroke-width="1"/><line x1="519.10" y1="485.6" x2="519.10" y2="492.5" stroke="#b9504a" stroke-width="1"/><rect x="517.50" y="481.8" width="3.2" height="3.8" fill="#f3b392" stroke="#b9504a" stroke-width="0.9"/><line x1="525.35" y1="481.0" x2="525.35" y2="493.0" stroke="#1f9a4c" stroke-width="1"/><rect x="523.55" y="481.8" width="3.6" height="7.5" fill="#1f9a4c"/><line x1="531.60" y1="485.8" x2="531.60" y2="487.0" stroke="#b9504a" stroke-width="1"/><line x1="531.60" y1="490.0" x2="531.60" y2="496.4" stroke="#b9504a" stroke-width="1"/><rect x="530.00" y="487.0" width="3.2" height="3.0" fill="#f3b392" stroke="#b9504a" stroke-width="0.9"/><line x1="537.85" y1="484.0" x2="537.85" y2="484.0" stroke="#b9504a" stroke-width="1"/><line x1="537.85" y1="487.0" x2="537.85" y2="498.0" stroke="#b9504a" stroke-width="1"/><rect x="536.25" y="484.0" width="3.2" height="3.0" fill="#f3b392" stroke="#b9504a" stroke-width="0.9"/><line x1="544.10" y1="481.2" x2="544.10" y2="491.8" stroke="#1f9a4c" stroke-width="1"/><rect x="542.30" y="482.7" width="3.6" height="7.6" fill="#1f9a4c"/><line x1="550.35" y1="492.6" x2="550.35" y2="519.4" stroke="#1f9a4c" stroke-width="1"/><rect x="548.55" y="493.3" width="3.6" height="25.7" fill="#1f9a4c"/><line x1="556.60" y1="513.0" x2="556.60" y2="520.6" stroke="#b9504a" stroke-width="1"/><line x1="556.60" y1="522.0" x2="556.60" y2="526.7" stroke="#b9504a" stroke-width="1"/><rect x="555.00" y="520.6" width="3.2" height="1.4" fill="#f3b392" stroke="#b9504a" stroke-width="0.9"/><line x1="562.85" y1="517.6" x2="562.85" y2="521.0" stroke="#b9504a" stroke-width="1"/><line x1="562.85" y1="523.0" x2="562.85" y2="532.7" stroke="#b9504a" stroke-width="1"/><rect x="561.25" y="521.0" width="3.2" height="2.0" fill="#f3b392" stroke="#b9504a" stroke-width="0.9"/><line x1="569.10" y1="516.0" x2="569.10" y2="520.6" stroke="#b9504a" stroke-width="1"/><line x1="569.10" y1="522.0" x2="569.10" y2="525.0" stroke="#b9504a" stroke-width="1"/><rect x="567.50" y="520.6" width="3.2" height="1.4" fill="#f3b392" stroke="#b9504a" stroke-width="0.9"/><line x1="575.35" y1="507.0" x2="575.35" y2="508.5" stroke="#b9504a" stroke-width="1"/><line x1="575.35" y1="528.0" x2="575.35" y2="544.0" stroke="#b9504a" stroke-width="1"/><rect x="573.75" y="508.5" width="3.2" height="19.5" fill="#f3b392" stroke="#b9504a" stroke-width="0.9"/><line x1="581.60" y1="500.0" x2="581.60" y2="501.0" stroke="#b9504a" stroke-width="1"/><line x1="581.60" y1="510.0" x2="581.60" y2="514.5" stroke="#b9504a" stroke-width="1"/><rect x="580.00" y="501.0" width="3.2" height="9.0" fill="#f3b392" stroke="#b9504a" stroke-width="0.9"/><line x1="587.85" y1="504.0" x2="587.85" y2="522.0" stroke="#1f9a4c" stroke-width="1"/><rect x="586.05" y="504.7" width="3.6" height="16.7" fill="#1f9a4c"/><line x1="594.10" y1="513.0" x2="594.10" y2="527.4" stroke="#1f9a4c" stroke-width="1"/><rect x="592.30" y="513.8" width="3.6" height="12.9" fill="#1f9a4c"/><line x1="600.35" y1="521.4" x2="600.35" y2="537.3" stroke="#1f9a4c" stroke-width="1"/><rect x="598.55" y="522.0" width="3.6" height="13.8" fill="#1f9a4c"/><line x1="606.60" y1="532.7" x2="606.60" y2="546.4" stroke="#1f9a4c" stroke-width="1"/><rect x="604.80" y="539.5" width="3.6" height="3.1" fill="#1f9a4c"/><line x1="612.85" y1="538.0" x2="612.85" y2="541.8" stroke="#b9504a" stroke-width="1"/><line x1="612.85" y1="543.3" x2="612.85" y2="552.4" stroke="#b9504a" stroke-width="1"/><rect x="611.25" y="541.8" width="3.2" height="1.5" fill="#f3b392" stroke="#b9504a" stroke-width="0.9"/><line x1="619.10" y1="541.8" x2="619.10" y2="560.0" stroke="#1f9a4c" stroke-width="1"/><rect x="617.30" y="542.6" width="3.6" height="16.6" fill="#1f9a4c"/><line x1="625.35" y1="548.0" x2="625.35" y2="549.4" stroke="#b9504a" stroke-width="1"/><line x1="625.35" y1="564.5" x2="625.35" y2="571.4" stroke="#b9504a" stroke-width="1"/><rect x="623.75" y="549.4" width="3.2" height="15.1" fill="#f3b392" stroke="#b9504a" stroke-width="0.9"/><line x1="631.60" y1="541.0" x2="631.60" y2="557.0" stroke="#1f9a4c" stroke-width="1"/><rect x="629.80" y="550.0" width="3.6" height="2.4" fill="#1f9a4c"/><line x1="637.85" y1="548.6" x2="637.85" y2="550.0" stroke="#b9504a" stroke-width="1"/><line x1="637.85" y1="553.0" x2="637.85" y2="558.5" stroke="#b9504a" stroke-width="1"/><rect x="636.25" y="550.0" width="3.2" height="3.0" fill="#f3b392" stroke="#b9504a" stroke-width="0.9"/><line x1="644.10" y1="549.4" x2="644.10" y2="564.5" stroke="#1f9a4c" stroke-width="1"/><rect x="642.30" y="550.0" width="3.6" height="10.8" fill="#1f9a4c"/><line x1="650.35" y1="550.9" x2="650.35" y2="551.7" stroke="#b9504a" stroke-width="1"/><line x1="650.35" y1="560.8" x2="650.35" y2="566.0" stroke="#b9504a" stroke-width="1"/><rect x="648.75" y="551.7" width="3.2" height="9.1" fill="#f3b392" stroke="#b9504a" stroke-width="0.9"/><line x1="656.60" y1="526.7" x2="656.60" y2="529.0" stroke="#b9504a" stroke-width="1"/><line x1="656.60" y1="552.4" x2="656.60" y2="554.0" stroke="#b9504a" stroke-width="1"/><rect x="655.00" y="529.0" width="3.2" height="23.4" fill="#f3b392" stroke="#b9504a" stroke-width="0.9"/><line x1="662.85" y1="516.4" x2="662.85" y2="517.7" stroke="#b9504a" stroke-width="1"/><line x1="662.85" y1="531.6" x2="662.85" y2="532.8" stroke="#b9504a" stroke-width="1"/><rect x="661.25" y="517.7" width="3.2" height="13.9" fill="#f3b392" stroke="#b9504a" stroke-width="0.9"/><line x1="669.10" y1="517.6" x2="669.10" y2="525.2" stroke="#1f9a4c" stroke-width="1"/><rect x="667.30" y="519.0" width="3.6" height="5.0" fill="#1f9a4c"/><line x1="675.35" y1="521.5" x2="675.35" y2="522.7" stroke="#b9504a" stroke-width="1"/><line x1="675.35" y1="527.8" x2="675.35" y2="529.0" stroke="#b9504a" stroke-width="1"/><rect x="673.75" y="522.7" width="3.2" height="5.1" fill="#f3b392" stroke="#b9504a" stroke-width="0.9"/><line x1="681.60" y1="521.5" x2="681.60" y2="538.0" stroke="#1f9a4c" stroke-width="1"/><rect x="679.80" y="524.0" width="3.6" height="6.0" fill="#1f9a4c"/><line x1="687.85" y1="525.0" x2="687.85" y2="551.8" stroke="#1f9a4c" stroke-width="1"/><rect x="686.05" y="532.8" width="3.6" height="11.2" fill="#1f9a4c"/><line x1="694.10" y1="545.4" x2="694.10" y2="568.2" stroke="#1f9a4c" stroke-width="1"/><rect x="692.30" y="546.7" width="3.6" height="21.0" fill="#1f9a4c"/><line x1="700.35" y1="560.6" x2="700.35" y2="564.4" stroke="#b9504a" stroke-width="1"/><line x1="700.35" y1="568.0" x2="700.35" y2="573.2" stroke="#b9504a" stroke-width="1"/><rect x="698.75" y="564.4" width="3.2" height="3.6" fill="#f3b392" stroke="#b9504a" stroke-width="0.9"/><line x1="706.60" y1="560.6" x2="706.60" y2="578.0" stroke="#1f9a4c" stroke-width="1"/><rect x="704.80" y="567.0" width="3.6" height="6.2" fill="#1f9a4c"/><line x1="712.85" y1="561.9" x2="712.85" y2="564.4" stroke="#b9504a" stroke-width="1"/><line x1="712.85" y1="575.7" x2="712.85" y2="578.3" stroke="#b9504a" stroke-width="1"/><rect x="711.25" y="564.4" width="3.2" height="11.3" fill="#f3b392" stroke="#b9504a" stroke-width="0.9"/><line x1="719.10" y1="558.0" x2="719.10" y2="566.9" stroke="#b9504a" stroke-width="1"/><line x1="719.10" y1="568.0" x2="719.10" y2="573.0" stroke="#b9504a" stroke-width="1"/><rect x="717.50" y="566.9" width="3.2" height="1.2" fill="#f3b392" stroke="#b9504a" stroke-width="0.9"/><line x1="725.35" y1="558.0" x2="725.35" y2="564.4" stroke="#b9504a" stroke-width="1"/><line x1="725.35" y1="575.7" x2="725.35" y2="578.3" stroke="#b9504a" stroke-width="1"/><rect x="723.75" y="564.4" width="3.2" height="11.3" fill="#f3b392" stroke="#b9504a" stroke-width="0.9"/><line x1="731.60" y1="561.9" x2="731.60" y2="563.0" stroke="#b9504a" stroke-width="1"/><line x1="731.60" y1="575.7" x2="731.60" y2="582.0" stroke="#b9504a" stroke-width="1"/><rect x="730.00" y="563.0" width="3.2" height="12.7" fill="#f3b392" stroke="#b9504a" stroke-width="0.9"/><line x1="737.85" y1="565.6" x2="737.85" y2="598.5" stroke="#1f9a4c" stroke-width="1"/><rect x="736.05" y="567.0" width="3.6" height="30.2" fill="#1f9a4c"/><line x1="744.10" y1="589.6" x2="744.10" y2="591.0" stroke="#b9504a" stroke-width="1"/><line x1="744.10" y1="603.5" x2="744.10" y2="640.0" stroke="#b9504a" stroke-width="1"/><rect x="742.50" y="591.0" width="3.2" height="12.5" fill="#f3b392" stroke="#b9504a" stroke-width="0.9"/><line x1="750.35" y1="589.6" x2="750.35" y2="603.5" stroke="#1f9a4c" stroke-width="1"/><rect x="748.55" y="596.0" width="3.6" height="2.5" fill="#1f9a4c"/><line x1="756.60" y1="601.0" x2="756.60" y2="654.0" stroke="#1f9a4c" stroke-width="1"/><rect x="754.80" y="602.0" width="3.6" height="38.0" fill="#1f9a4c"/><line x1="762.85" y1="627.5" x2="762.85" y2="632.5" stroke="#b9504a" stroke-width="1"/><line x1="762.85" y1="646.4" x2="762.85" y2="659.0" stroke="#b9504a" stroke-width="1"/><rect x="761.25" y="632.5" width="3.2" height="13.9" fill="#f3b392" stroke="#b9504a" stroke-width="0.9"/><line x1="769.10" y1="603.5" x2="769.10" y2="604.8" stroke="#b9504a" stroke-width="1"/><line x1="769.10" y1="627.5" x2="769.10" y2="649.0" stroke="#b9504a" stroke-width="1"/><rect x="767.50" y="604.8" width="3.2" height="22.7" fill="#f3b392" stroke="#b9504a" stroke-width="0.9"/><line x1="775.35" y1="556.8" x2="775.35" y2="556.8" stroke="#b9504a" stroke-width="1"/><line x1="775.35" y1="603.5" x2="775.35" y2="604.8" stroke="#b9504a" stroke-width="1"/><rect x="773.75" y="556.8" width="3.2" height="46.7" fill="#f3b392" stroke="#b9504a" stroke-width="0.9"/><line x1="781.60" y1="546.7" x2="781.60" y2="554.3" stroke="#b9504a" stroke-width="1"/><line x1="781.60" y1="562.0" x2="781.60" y2="567.0" stroke="#b9504a" stroke-width="1"/><rect x="780.00" y="554.3" width="3.2" height="7.7" fill="#f3b392" stroke="#b9504a" stroke-width="0.9"/><line x1="787.85" y1="546.7" x2="787.85" y2="570.7" stroke="#1f9a4c" stroke-width="1"/><rect x="786.05" y="554.3" width="3.6" height="15.1" fill="#1f9a4c"/><line x1="794.10" y1="572.0" x2="794.10" y2="601.0" stroke="#1f9a4c" stroke-width="1"/><rect x="792.30" y="578.0" width="3.6" height="21.7" fill="#1f9a4c"/><line x1="800.35" y1="600.0" x2="800.35" y2="627.5" stroke="#1f9a4c" stroke-width="1"/><rect x="798.55" y="607.3" width="3.6" height="16.4" fill="#1f9a4c"/><line x1="806.60" y1="616.0" x2="806.60" y2="645.0" stroke="#1f9a4c" stroke-width="1"/><rect x="804.80" y="631.0" width="3.6" height="2.8" fill="#1f9a4c"/><line x1="812.85" y1="623.7" x2="812.85" y2="693.0" stroke="#1f9a4c" stroke-width="1"/><rect x="811.05" y="631.3" width="3.6" height="25.2" fill="#1f9a4c"/><polyline points="792,693.5 812.8,693.5 812.8,656" fill="none" stroke="#777" stroke-width="1"/><line x1="86" y1="312.5" x2="51.3" y2="332.1" stroke="#b01c22" stroke-width="3.2" stroke-linecap="butt"/><polygon points="41.7,337.5 51.1,323.6 51.3,332.1 58.4,336.7" fill="#e41a1a" stroke="#a51a22" stroke-width="0.8" stroke-linejoin="miter"/><line x1="130.6" y1="350" x2="102.1" y2="391.0" stroke="#b01c22" stroke-width="3.2" stroke-linecap="butt"/><polygon points="95.8,400 98.2,383.4 102.1,391.0 110.5,392.0" fill="#e41a1a" stroke="#a51a22" stroke-width="0.8" stroke-linejoin="miter"/><line x1="182" y1="370.8" x2="163.0" y2="404.0" stroke="#b01c22" stroke-width="3.2" stroke-linecap="butt"/><polygon points="157.5,413.5 158.5,396.8 163.0,404.0 171.5,404.2" fill="#e41a1a" stroke="#a51a22" stroke-width="0.8" stroke-linejoin="miter"/><line x1="257" y1="391.7" x2="223.9" y2="412.2" stroke="#b01c22" stroke-width="3.2" stroke-linecap="butt"/><polygon points="214.5,418 223.3,403.7 223.9,412.2 231.2,416.5" fill="#e41a1a" stroke="#a51a22" stroke-width="0.8" stroke-linejoin="miter"/><line x1="283.3" y1="420" x2="245.7" y2="421.7" stroke="#b01c22" stroke-width="3.2" stroke-linecap="butt"/><polygon points="234.7,422.2 249.3,414.0 245.7,421.7 250.0,429.0" fill="#e41a1a" stroke="#a51a22" stroke-width="0.8" stroke-linejoin="miter"/><line x1="344" y1="443" x2="302.6" y2="437.5" stroke="#b01c22" stroke-width="3.2" stroke-linecap="butt"/><polygon points="291.7,436 307.6,430.6 302.6,437.5 305.6,445.4" fill="#e41a1a" stroke="#a51a22" stroke-width="0.8" stroke-linejoin="miter"/><line x1="201.4" y1="468" x2="234.8" y2="449.7" stroke="#b01c22" stroke-width="3.2" stroke-linecap="butt"/><polygon points="244.4,444.4 234.9,458.2 234.8,449.7 227.6,445.0" fill="#e41a1a" stroke="#a51a22" stroke-width="0.8" stroke-linejoin="miter"/><line x1="83.3" y1="490.3" x2="118.2" y2="470.7" stroke="#b01c22" stroke-width="3.2" stroke-linecap="butt"/><polygon points="127.8,465.3 118.4,479.2 118.2,470.7 111.0,466.1" fill="#e41a1a" stroke="#a51a22" stroke-width="0.8" stroke-linejoin="miter"/><line x1="422" y1="558.9" x2="388.4" y2="538.3" stroke="#b01c22" stroke-width="3.2" stroke-linecap="butt"/><polygon points="379,532.5 395.7,534.0 388.4,538.3 387.9,546.7" fill="#e41a1a" stroke="#a51a22" stroke-width="0.8" stroke-linejoin="miter"/><line x1="636.4" y1="479.2" x2="601.8" y2="496.5" stroke="#b01c22" stroke-width="3.2" stroke-linecap="butt"/><polygon points="592,501.4 602.1,488.0 601.8,496.5 608.8,501.4" fill="#e41a1a" stroke="#a51a22" stroke-width="0.8" stroke-linejoin="miter"/><line x1="671" y1="505.5" x2="641.8" y2="531.7" stroke="#b01c22" stroke-width="3.2" stroke-linecap="butt"/><polygon points="633.6,539 639.8,523.4 641.8,531.7 649.8,534.6" fill="#e41a1a" stroke="#a51a22" stroke-width="0.8" stroke-linejoin="miter"/><line x1="746" y1="533.3" x2="709.4" y2="545.2" stroke="#b01c22" stroke-width="3.2" stroke-linecap="butt"/><polygon points="698.9,548.6 710.8,536.8 709.4,545.2 715.5,551.1" fill="#e41a1a" stroke="#a51a22" stroke-width="0.8" stroke-linejoin="miter"/><line x1="846" y1="552.2" x2="807.0" y2="551.6" stroke="#b01c22" stroke-width="3.2" stroke-linecap="butt"/><polygon points="796,551.4 811.1,544.1 807.0,551.6 810.9,559.1" fill="#e41a1a" stroke="#a51a22" stroke-width="0.8" stroke-linejoin="miter"/><line x1="856" y1="603" x2="815.7" y2="606.3" stroke="#b01c22" stroke-width="3.2" stroke-linecap="butt"/><polygon points="804.7,607.2 819.0,598.5 815.7,606.3 820.3,613.5" fill="#e41a1a" stroke="#a51a22" stroke-width="0.8" stroke-linejoin="miter"/><line x1="708.9" y1="661.4" x2="747.9" y2="657.7" stroke="#b01c22" stroke-width="3.2" stroke-linecap="butt"/><polygon points="758.9,656.7 744.7,665.6 747.9,657.7 743.3,650.6" fill="#e41a1a" stroke="#a51a22" stroke-width="0.8" stroke-linejoin="miter"/><line x1="868.6" y1="682.2" x2="829.6" y2="685.5" stroke="#b01c22" stroke-width="3.2" stroke-linecap="butt"/><polygon points="818.6,686.4 832.9,677.7 829.6,685.5 834.2,692.6" fill="#e41a1a" stroke="#a51a22" stroke-width="0.8" stroke-linejoin="miter"/></svg>
<div class="t" style="left:89px;top:305.9px;font-size:18.3px;line-height:18.3px;color:#b81f2a;font-weight:bold;font-family:'Liberation Sans', sans-serif;letter-spacing:0.27px;text-shadow:0 0 2px #fff,0 0 3px #fff,0 0 4px #fff;white-space:nowrap;"><span style="display:inline-block;transform:scaleY(1.13)">08.03</span> 让居民通过股市也能赚到钱</div>
<div class="t" style="left:133px;top:331.9px;font-size:18.3px;line-height:18.3px;color:#b81f2a;font-weight:bold;font-family:'Liberation Sans', sans-serif;letter-spacing:0.27px;text-shadow:0 0 2px #fff,0 0 3px #fff,0 0 4px #fff;white-space:nowrap;"><span style="display:inline-block;transform:scaleY(1.13)">08.16</span> 抹黑打压改变不了中国市场吸引力</div>
<div class="t" style="left:188px;top:356.9px;font-size:18.3px;line-height:18.3px;color:#b81f2a;font-weight:bold;font-family:'Liberation Sans', sans-serif;letter-spacing:0.27px;text-shadow:0 0 2px #fff,0 0 3px #fff,0 0 4px #fff;white-space:nowrap;"><span style="display:inline-block;transform:scaleY(1.13)">08.30</span> 经济恢复需要保持战略定力</div>
<div class="t" style="left:466px;top:346.9px;font-size:18.3px;line-height:18.3px;color:#b81f2a;font-weight:bold;font-family:'Liberation Sans', sans-serif;letter-spacing:0.27px;text-shadow:0 0 2px #fff,0 0 3px #fff,0 0 4px #fff;white-space:nowrap;"><span style="display:inline-block;transform:scaleY(1.13)">08.19</span> 为消费市场增添更多信心</div>
<div class="t" style="left:264px;top:381.9px;font-size:18.3px;line-height:18.3px;color:#b81f2a;font-weight:bold;font-family:'Liberation Sans', sans-serif;letter-spacing:0.27px;text-shadow:0 0 2px #fff,0 0 3px #fff,0 0 4px #fff;white-space:nowrap;"><span style="display:inline-block;transform:scaleY(1.13)">09.12</span> 加力提效实施积极财政政策</div>
<div class="t" style="left:291px;top:409.9px;font-size:18.3px;line-height:18.3px;color:#b81f2a;font-weight:bold;font-family:'Liberation Sans', sans-serif;letter-spacing:0.27px;text-shadow:0 0 2px #fff,0 0 3px #fff,0 0 4px #fff;white-space:nowrap;"><span style="display:inline-block;transform:scaleY(1.13)">09.15</span> 多管齐下激发民间投资活力</div>
<div class="t" style="left:582px;top:413.4px;font-size:18.3px;line-height:18.3px;color:#b81f2a;font-weight:bold;font-family:'Liberation Sans', sans-serif;letter-spacing:0.27px;text-shadow:0 0 2px #fff,0 0 3px #fff,0 0 4px #fff;white-space:nowrap;"><span style="display:inline-block;transform:scaleY(1.13)">09.24</span> 投资者不要以盈利为唯一目的</div>
<div class="t" style="left:348px;top:434.9px;font-size:18.3px;line-height:18.3px;color:#b81f2a;font-weight:bold;font-family:'Liberation Sans', sans-serif;letter-spacing:0.27px;text-shadow:0 0 2px #fff,0 0 3px #fff,0 0 4px #fff;white-space:nowrap;"><span style="display:inline-block;transform:scaleY(1.13)">09.28</span> 上市公司要扛起稳市场责任</div>
<div class="t" style="left:139px;top:471.9px;font-size:18.3px;line-height:18.3px;color:#b81f2a;font-weight:bold;font-family:'Liberation Sans', sans-serif;letter-spacing:0.27px;text-shadow:0 0 2px #fff,0 0 3px #fff,0 0 4px #fff;white-space:nowrap;"><span style="display:inline-block;transform:scaleY(1.13)">09.20</span> 提高分红水平吸引中长期资金</div>
<div class="t" style="left:14px;top:496.9px;font-size:18.3px;line-height:18.3px;color:#b81f2a;font-weight:bold;font-family:'Liberation Sans', sans-serif;letter-spacing:0.27px;text-shadow:0 0 2px #fff,0 0 3px #fff,0 0 4px #fff;white-space:nowrap;"><span style="display:inline-block;transform:scaleY(1.13)">08.24</span> 股民别太在意3000点得与失</div>
<div class="t" style="left:645px;top:465.9px;font-size:18.3px;line-height:18.3px;color:#b81f2a;font-weight:bold;font-family:'Liberation Sans', sans-serif;letter-spacing:0.27px;text-shadow:0 0 2px #fff,0 0 3px #fff,0 0 4px #fff;white-space:nowrap;"><span style="display:inline-block;transform:scaleY(1.13)">12.13</span> 唱响经济光明论</div>
<div class="t" style="left:679px;top:493.4px;font-size:18.3px;line-height:18.3px;color:#b81f2a;font-weight:bold;font-family:'Liberation Sans', sans-serif;letter-spacing:0.27px;text-shadow:0 0 2px #fff,0 0 3px #fff,0 0 4px #fff;white-space:nowrap;"><span style="display:inline-block;transform:scaleY(1.13)">12.22</span> 如不投资中国，外资肠子都要悔青</div>
<div class="t" style="left:754px;top:521.4px;font-size:18.3px;line-height:18.3px;color:#b81f2a;font-weight:bold;font-family:'Liberation Sans', sans-serif;letter-spacing:0.27px;text-shadow:0 0 2px #fff,0 0 3px #fff,0 0 4px #fff;white-space:nowrap;"><span style="display:inline-block;transform:scaleY(1.13)">01.08</span> 保护中小投资者合法权益</div>
<div class="t" style="left:856px;top:543.4px;font-size:18.3px;line-height:18.3px;color:#b81f2a;font-weight:bold;font-family:'Liberation Sans', sans-serif;letter-spacing:0.27px;text-shadow:0 0 2px #fff,0 0 3px #fff,0 0 4px #fff;white-space:nowrap;"><span style="display:inline-block;transform:scaleY(1.13)">01.29</span> 强化A股投资者回报</div>
<div class="t" style="left:58px;top:555.9px;font-size:18.3px;line-height:18.3px;color:#b81f2a;font-weight:bold;font-family:'Liberation Sans', sans-serif;letter-spacing:0.27px;text-shadow:0 0 2px #fff,0 0 3px #fff,0 0 4px #fff;white-space:nowrap;"><span style="display:inline-block;transform:scaleY(1.13)">10.04</span> 国企深化改革当好顶梁柱</div>
<div class="t" style="left:328px;top:565.4px;font-size:18.3px;line-height:18.3px;color:#b81f2a;font-weight:bold;font-family:'Liberation Sans', sans-serif;letter-spacing:0.27px;text-shadow:0 0 2px #fff,0 0 3px #fff,0 0 4px #fff;white-space:nowrap;"><span style="display:inline-block;transform:scaleY(1.13)">10.26</span> 鼓励更多长期资金积极入市</div>
<div class="t" style="left:856px;top:567.4px;font-size:18.3px;line-height:18.3px;color:#b81f2a;font-weight:bold;font-family:'Liberation Sans', sans-serif;letter-spacing:0.27px;text-shadow:0 0 2px #fff,0 0 3px #fff,0 0 4px #fff;white-space:nowrap;"><span style="display:inline-block;transform:scaleY(1.13)">01.29</span> 关键要有买在无人问津处的勇气</div>
<div class="t" style="left:863px;top:594.9px;font-size:18.3px;line-height:18.3px;color:#b81f2a;font-weight:bold;font-family:'Liberation Sans', sans-serif;letter-spacing:0.27px;text-shadow:0 0 2px #fff,0 0 3px #fff,0 0 4px #fff;white-space:nowrap;"><span style="display:inline-block;transform:scaleY(1.13)">01.31</span> 专家建议3000点以下越低越买</div>
<div class="t" style="left:864px;top:619.4px;font-size:18.3px;line-height:18.3px;color:#b81f2a;font-weight:bold;font-family:'Liberation Sans', sans-serif;letter-spacing:0.27px;text-shadow:0 0 2px #fff,0 0 3px #fff,0 0 4px #fff;white-space:nowrap;"><span style="display:inline-block;transform:scaleY(1.13)">01.31</span> 2024年资本市场有条件发动一轮牛市</div>
<div class="t" style="left:436px;top:652.4px;font-size:18.3px;line-height:18.3px;color:#b81f2a;font-weight:bold;font-family:'Liberation Sans', sans-serif;letter-spacing:0.27px;text-shadow:0 0 2px #fff,0 0 3px #fff,0 0 4px #fff;white-space:nowrap;"><span style="display:inline-block;transform:scaleY(1.13)">01.23</span> A股今年有望走出前低后高</div>
<div class="t" style="left:866px;top:647.9px;font-size:18.3px;line-height:18.3px;color:#b81f2a;font-weight:bold;font-family:'Liberation Sans', sans-serif;letter-spacing:0.27px;text-shadow:0 0 2px #fff,0 0 3px #fff,0 0 4px #fff;white-space:nowrap;"><span style="display:inline-block;transform:scaleY(1.13)">01.31</span> A股处于历史大底附近位置 已经足够便宜</div>
<div class="t" style="left:879px;top:673.4px;font-size:18.3px;line-height:18.3px;color:#b81f2a;font-weight:bold;font-family:'Liberation Sans', sans-serif;letter-spacing:0.27px;text-shadow:0 0 2px #fff,0 0 3px #fff,0 0 4px #fff;white-space:nowrap;"><span style="display:inline-block;transform:scaleY(1.13)">02.02</span> 专家称散户是A股最宝贵财富</div>
<div class="t" style="left:879px;top:699.4px;font-size:18.3px;line-height:18.3px;color:#b81f2a;font-weight:bold;font-family:'Liberation Sans', sans-serif;letter-spacing:0.27px;text-shadow:0 0 2px #fff,0 0 3px #fff,0 0 4px #fff;white-space:nowrap;"><span style="display:inline-block;transform:scaleY(1.13)">02.02</span> 整个国家都洋溢着乐观向上的氛围</div>
<div class="t" style="left:1062px;top:745.0px;font-size:32px;line-height:32px;color:#aaa;font-weight:normal;font-family:'Liberation Sans', sans-serif;-webkit-text-stroke:3.5px #a8a8a8;text-shadow:1px 1px 3px #bbb;">@老友记周学</div>
<div class="t" style="left:1062px;top:745.0px;font-size:32px;line-height:32px;color:#fff;font-weight:normal;font-family:'Liberation Sans', sans-serif;-webkit-text-stroke:1.3px #fff;">@老友记周学</div>
<svg style="position:absolute;left:960px;top:740px" width="110" height="45" viewBox="0 0 110 45"><g transform="translate(5,6)"><path d="M2 22 C2 13 12 4 21 3 C25 2.5 26 5 24 9 C28 7 34 7 34 12 C34 14 33 15 35 16 C39 18 40 22 38 26 C35 31 26 35 17 35 C8 35 2 30 2 22 Z" fill="#fff" stroke="#9c9c9c" stroke-width="1.3"/><ellipse cx="18" cy="26" rx="11" ry="7.5" fill="#e6e6e6" stroke="#a8a8a8" stroke-width="1.2"/><ellipse cx="17" cy="27" rx="5.5" ry="4.5" fill="#fff" stroke="#999" stroke-width="1"/><circle cx="15.5" cy="28" r="1.6" fill="#888"/><path d="M29 0 A12 12 0 0 1 41 12" fill="none" stroke="#aaa" stroke-width="3"/><path d="M29 5 A7 7 0 0 1 36 12" fill="none" stroke="#aaa" stroke-width="2.5"/></g><g transform="translate(51,6)"><path d="M2 22 C2 13 12 4 21 3 C25 2.5 26 5 24 9 C28 7 34 7 34 12 C34 14 33 15 35 16 C39 18 40 22 38 26 C35 31 26 35 17 35 C8 35 2 30 2 22 Z" fill="#fff" stroke="#9c9c9c" stroke-width="1.3"/><ellipse cx="18" cy="26" rx="11" ry="7.5" fill="#e6e6e6" stroke="#a8a8a8" stroke-width="1.2"/><ellipse cx="17" cy="27" rx="5.5" ry="4.5" fill="#fff" stroke="#999" stroke-width="1"/><circle cx="15.5" cy="28" r="1.6" fill="#888"/><path d="M29 0 A12 12 0 0 1 41 12" fill="none" stroke="#aaa" stroke-width="3"/><path d="M29 5 A7 7 0 0 1 36 12" fill="none" stroke="#aaa" stroke-width="2.5"/></g><text x="94" y="33" font-size="22" fill="#fff" stroke="#aaa" stroke-width="1" font-family="Liberation Sans">3</text></svg>
</div></body></html>
